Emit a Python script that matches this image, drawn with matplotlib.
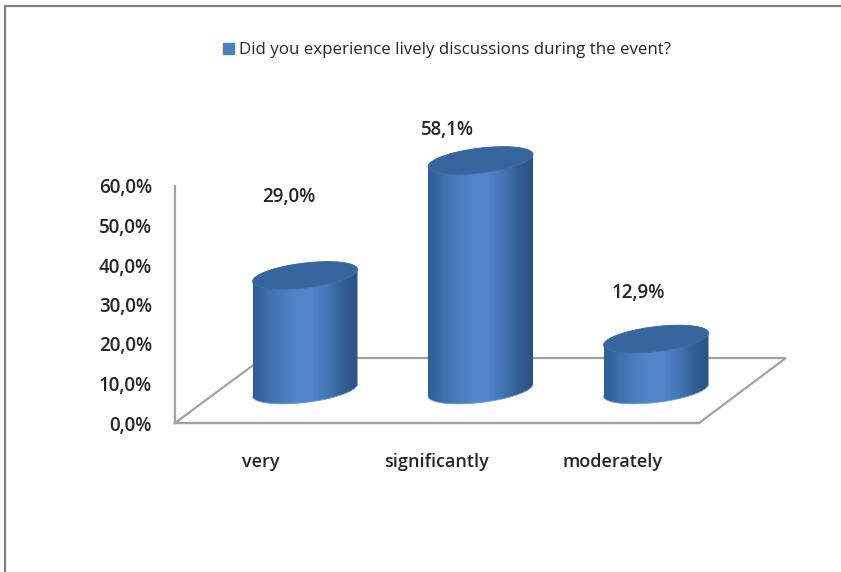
import numpy as np
import matplotlib
matplotlib.use("Agg")
import matplotlib.pyplot as plt
from matplotlib.colors import LinearSegmentedColormap
from matplotlib.lines import Line2D
from matplotlib.patches import Patch, Polygon

categories = ['very', 'significantly', 'moderately']
values = [29.0, 58.1, 12.9]
value_labels = ['29,0%', '58,1%', '12,9%']
yticks = [0, 10, 20, 30, 40, 50, 60]
ytick_labels = ['0,0%', '10,0%', '20,0%', '30,0%', '40,0%', '50,0%', '60,0%']
legend_label = 'Did you experience lively discussions during the event?'

plt.rcParams['font.family'] = ['Open Sans', 'DejaVu Sans']

W, H = 841, 572
px_per_pct = 3.95   # vertical scale of the value axis
px_per_cat = 175.5  # spacing of the categories
x0_px, y0_px = 305, 423  # first cylinder centre, zero line

# 3d floor, in axis units
depth_dx = 44 / px_per_cat
base_y = 33 / px_per_pct
half_w = 52.5 / px_per_cat
ell_b = 12.5 / px_per_pct
ell_s = 6 / px_per_pct
left_x = -0.741
front_right = 2.245
back_right = 2.74
back_y = 65 / px_per_pct
text_col = '#262626'
grey = '#a3a3a3'
label_size = 13.5

side_cmap = LinearSegmentedColormap.from_list(
    'side', ['#2f5d94', '#3f70ad', '#4a7cbc', '#5286cb', '#5184c8', '#4476b3', '#345f96', '#2a5283'])

fig = plt.figure(figsize=(W / 100, H / 100), dpi=100)
ax = fig.add_axes([0, 0, 1, 1])
ax.patch.set_alpha(0)
xlim = ((0 - x0_px) / px_per_cat, (W - x0_px) / px_per_cat)
ylim = ((y0_px - H) / px_per_pct, y0_px / px_per_pct)

# outer frame of the screenshot
fig.add_artist(Line2D([4.5 / W, 4.5 / W, 1], [0, 1 - 6 / H, 1 - 6 / H], color='#808080', lw=1.6))

# floor edges
ax.plot([left_x, front_right, back_right, -0.24, left_x],
        [0, 0, back_y, back_y, 0], color=grey, lw=1.6, zorder=1, solid_joinstyle='miter')


def ellipse(cx, cy, t):
    return cx + half_w * np.cos(t), cy + ell_b * np.sin(t) + ell_s * np.cos(t)


for i, v in enumerate(values):
    bottom = base_y
    top = base_y + v
    xb, yb = ellipse(i, bottom, np.linspace(0, -np.pi, 80))
    xt, yt = ellipse(i, top, np.linspace(np.pi, 0, 80))
    body = Polygon(np.c_[np.r_[xb, xt], np.r_[yb, yt]], closed=True, fc='none', ec='none')
    ax.add_patch(body)
    grad = ax.imshow(np.linspace(0, 1, 256)[None, :], cmap=side_cmap, aspect='auto',
                     extent=(i - half_w, i + half_w, bottom - 5, top + 5), zorder=2, origin='lower')
    grad.set_clip_path(body)
    xe, ye = ellipse(i, top, np.linspace(0, 2 * np.pi, 160))
    ax.add_patch(Polygon(np.c_[xe, ye], closed=True, fc='#37659d', ec='#3d6fab', lw=0.6, zorder=3))
    ax.plot(xb, yb, color='#6f9fd8', lw=0.6, zorder=3)

ax.set_xlim(xlim)
ax.set_ylim(ylim)

# value labels
label_dx = [-16 / px_per_cat, -33 / px_per_cat, -18 / px_per_cat]
label_dy = [28.2, 16.1, 20.0]
for i, v in enumerate(values):
    ax.text(i + label_dx[i], v + label_dy[i], value_labels[i], ha='center', va='center',
            fontsize=label_size, color=text_col, fontweight='semibold', zorder=5)

# the axes themselves
for s in ['top', 'right']:
    ax.spines[s].set_visible(False)
ax.spines['left'].set_position(('data', left_x))
ax.spines['left'].set_bounds(0, 60)
ax.spines['bottom'].set_position(('data', 0))
ax.spines['bottom'].set_bounds(left_x, front_right)
for s in ['left', 'bottom']:
    ax.spines[s].set_color(grey)
    ax.spines[s].set_linewidth(1.6)
ax.set_yticks(yticks)
ax.set_yticklabels(ytick_labels, fontsize=label_size, color=text_col, fontweight='semibold')
ax.set_xticks([i - depth_dx for i in range(len(categories))])
ax.set_xticklabels(categories, fontsize=13, color=text_col, fontweight='semibold')
ax.tick_params(axis='y', length=0, pad=16.5)
ax.tick_params(axis='x', length=0, pad=21.5)

leg = fig.legend(handles=[Patch(color='#4f81bd', label=legend_label)], loc='center',
                 bbox_to_anchor=(447 / W, 1 - 50.5 / H), frameon=False, fontsize=12.2,
                 handlelength=0.65, handleheight=0.65, handletextpad=0.35)
for txt in leg.get_texts():
    txt.set_color(text_col)

fig.savefig('out.png', dpi=100)
